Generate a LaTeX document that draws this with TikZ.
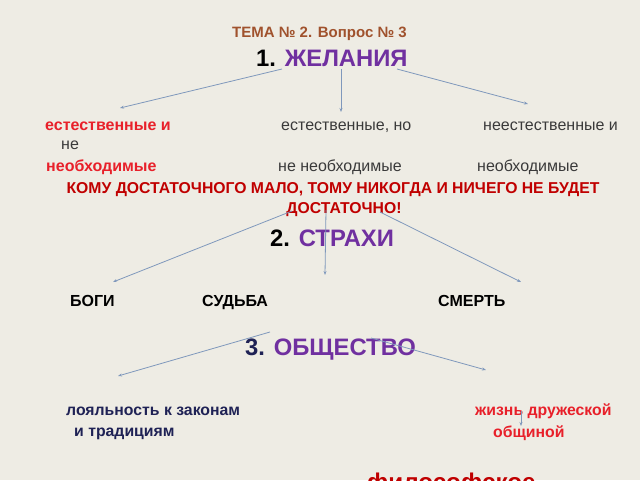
\documentclass[tikz,border=0pt]{standalone}
\usepackage{fontspec}
\setmainfont{Liberation Sans}
\usetikzlibrary{arrows.meta}
\definecolor{bg}{HTML}{EEECE4}
\definecolor{brownt}{HTML}{A0522D}
\definecolor{purp}{HTML}{7030A0}
\definecolor{darkred}{HTML}{C00000}
\definecolor{brightred}{HTML}{E8202A}
\definecolor{greyt}{HTML}{3A3A3A}
\definecolor{navy}{HTML}{1F2255}
\definecolor{arr}{HTML}{7F98BC}
\tikzset{
  txt/.style={inner sep=0pt, anchor=base west},
  arrow/.style={draw=arr, line width=0.8pt, -{Stealth[length=4pt,width=3pt]}},
}
\newcommand{\fs}[1]{\fontsize{#1}{#1}\selectfont}
\begin{document}
\begin{tikzpicture}[x=1pt,y=-1pt]
\fill[bg] (0,0) rectangle (640,480);
\useasboundingbox (0,0) rectangle (640,480);
% titles
\node[txt, text=brownt, font=\fs{15}\bfseries] (tema) at (232,37) {ТЕМА № 2. Вопрос № 3};
\node[txt, font=\fs{23.8}\bfseries] (zh) at (256,66) {1. \textcolor{purp}{ЖЕЛАНИЯ}};
% row 1
\node[txt, text=brightred, font=\fs{16}\bfseries] (a1) at (45,130) {естественные и};
\node[txt, text=greyt, font=\fs{16}] (a2) at (61,149) {не};
\node[txt, text=brightred, font=\fs{16}\bfseries] (a3) at (46,171) {необходимые};
\node[txt, text=greyt, font=\fs{16}] (b1) at (281,130) {естественные, но};
\node[txt, text=greyt, font=\fs{16}] (b2) at (278,171) {не необходимые};
\node[txt, text=greyt, font=\fs{16}] (c1) at (483,130) {неестественные и};
\node[txt, text=greyt, font=\fs{16}] (c2) at (477,171) {необходимые};
% quote
\node[inner sep=0pt, anchor=base, text=darkred, font=\fs{15.75}\bfseries] (q1) at (333,193) {КОМУ ДОСТАТОЧНОГО МАЛО, ТОМУ НИКОГДА И НИЧЕГО НЕ БУДЕТ};
\node[inner sep=0pt, anchor=base, text=darkred, font=\fs{15.75}\bfseries] (q2) at (344,213) {ДОСТАТОЧНО!};
% strahi
\node[txt, font=\fs{23.8}\bfseries] (st) at (270,246) {2. \textcolor{purp}{СТРАХИ}};
\node[txt, font=\fs{16}\bfseries] (bogi) at (70,306) {БОГИ};
\node[txt, font=\fs{16}\bfseries] (sud) at (202,306) {СУДЬБА};
\node[txt, font=\fs{16}\bfseries] (smert) at (438,306) {СМЕРТЬ};
% obshchestvo
\node[txt, text=navy, font=\fs{23.8}\bfseries] (ob) at (245,355) {3. \textcolor{purp}{ОБЩЕСТВО}};
\node[txt, text=navy, font=\fs{15.8}\bfseries] (l1) at (66,415) {лояльность к законам};
\node[txt, text=navy, font=\fs{15.8}\bfseries] (l2) at (74,436) {и традициям};
\node[txt, text=brightred, font=\fs{15.8}\bfseries] (r1) at (475,415) {жизнь дружеской};
\node[txt, text=brightred, font=\fs{15.8}\bfseries] (r2) at (493,437) {общиной};
\node[txt, text=darkred, font=\fs{24.2}\bfseries] (fil) at (367,490) {философское};
% arrow coordinates
\coordinate (s1) at (282,69); \coordinate (e1) at (120,108);
\coordinate (s2) at (341,69); \coordinate (e2) at (341,112);
\coordinate (s3) at (397,69); \coordinate (e3) at (528,104);
\coordinate (s4) at (292,211); \coordinate (e4) at (113,282);
\coordinate (s5) at (326,210); \coordinate (e5) at (325,275);
\coordinate (s6) at (380,212); \coordinate (e6) at (521,282);
\coordinate (s7) at (270,332); \coordinate (e7) at (118,376);
\coordinate (s8) at (371,338); \coordinate (e8) at (486,370);
\coordinate (s9) at (521,411); \coordinate (e9) at (521,426);
\draw[arrow] (s1) -- (e1);
\draw[arrow] (s2) -- (e2);
\draw[arrow] (s3) -- (e3);
\draw[arrow] (s4) -- (e4);
\draw[arrow] (s5) -- (e5);
\draw[arrow] (s6) -- (e6);
\draw[arrow] (s7) -- (e7);
\draw[arrow] (s8) -- (e8);
\draw[arrow] (s9) -- (e9);
\end{tikzpicture}
\end{document}
